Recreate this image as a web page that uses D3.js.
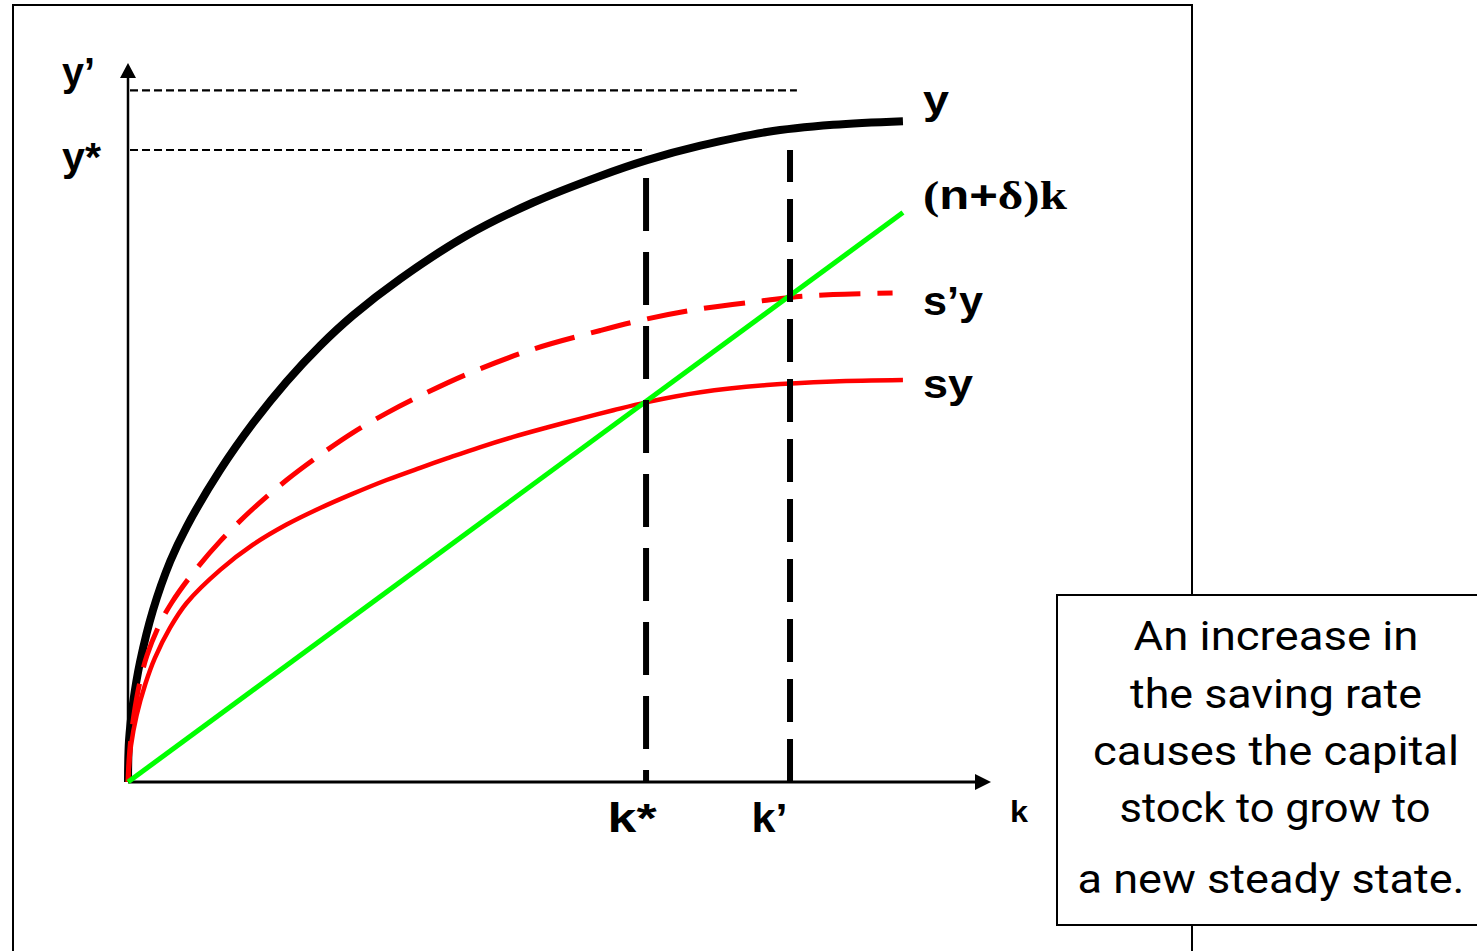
<!DOCTYPE html>
<html><head><meta charset="utf-8">
<script src="https://cdn.jsdelivr.net/npm/d3@7"></script>
<style>html,body{margin:0;padding:0;background:#fff;overflow:hidden}svg{display:block}</style>
</head><body>
<script>
// ---------- data ----------
const yK  = [0, 0.012, 0.06, 0.14, 0.29, 0.49, 0.68, 1.07, 1.45, 1.84, 2.23, 2.61, 3.16, 3.93, 4.70, 5.48, 6.02, 6.64, 7.41, 8.18, 8.99];
const yV  = [0, 0.58, 1.11, 1.67, 2.39, 3.07, 3.55, 4.34, 4.99, 5.57, 6.07, 6.49, 7.00, 7.60, 8.06, 8.43, 8.65, 8.85, 9.04, 9.14, 9.19];
const syK = [0, 0.035, 0.10, 0.20, 0.31, 0.49, 0.68, 1.07, 1.45, 1.84, 2.23, 2.61, 3.00, 3.39, 3.70, 4.08, 4.47, 4.86, 5.24, 5.63, 6.01, 6.64, 7.41, 8.18, 8.99];
const syV = [0, 0.51, 0.93, 1.36, 1.72, 2.15, 2.49, 2.95, 3.30, 3.58, 3.81, 4.01, 4.20, 4.37, 4.50, 4.655, 4.80, 4.93, 5.05, 5.17, 5.28, 5.42, 5.52, 5.57, 5.59];
const s2K = [0, 0.012, 0.035, 0.08, 0.14, 0.22, 0.37, 0.51, 0.75, 1.07, 1.45, 1.84, 2.23, 2.61, 3.00, 3.39, 3.93, 4.70, 5.48, 6.02, 6.64, 7.41, 7.68, 8.18, 8.87];
const s2V = [0, 0.31, 0.62, 1.02, 1.40, 1.76, 2.20, 2.50, 2.90, 3.35, 3.80, 4.20, 4.55, 4.86, 5.13, 5.37, 5.67, 6.02, 6.28, 6.44, 6.58, 6.70, 6.74, 6.78, 6.80];
const depK = [0, 8.99];
const depV = [0, 7.92];

const kStar = 6.01, kPrime = 7.68;
const kStarTop = 8.40, kPrimeTop = 8.79;
const yStar = 8.79, yPrime = 9.62;
const yStarEnd = 6.01, yPrimeEnd = 7.76;

const xTickValues = [kStar, kPrime];
const xTickLabels = ["k*", "k’"];
const yTickValues = [yPrime, yStar];
const yTickLabels = ["y’", "y*"];
const axisLabelX = "k";
const curveLabels = ["y", "(n+δ)k", "s’y", "sy"];
const noteLines = ["An increase in", "the saving rate", "causes the capital", "stock to grow to", "a new steady state."];

// ---------- drawing ----------
const W = 1477, H = 951;
const svg = d3.select("body").append("svg").attr("width", W).attr("height", H);
const x = d3.scaleLinear().domain([0, 10]).range([128, 990]);
const y = d3.scaleLinear().domain([0, 10]).range([782, 63]);
const bold = "'Liberation Sans', Arial, sans-serif";
const serif = "'Liberation Serif', 'Times New Roman', serif";

// outer frame
svg.append("rect").attr("x", 13).attr("y", 5).attr("width", 1179).attr("height", 1000)
  .attr("fill", "none").attr("stroke", "#000").attr("stroke-width", 2);

// axes
const xAxis = svg.append("g").attr("transform", `translate(0,${y(0)})`)
  .call(d3.axisBottom(x).tickValues(xTickValues).tickFormat((d, i) => xTickLabels[i]).tickSize(0).tickSizeOuter(0));
xAxis.select(".domain").attr("stroke-width", 3).attr("d", `M${x(0)},0H${x(10) - 8}`);
const xLabelW = [49, 36];
xAxis.selectAll(".tick text").attr("text-anchor", "start").attr("x", -39).attr("y", 50).attr("dy", 0)
  .attr("font-family", bold).attr("font-weight", "bold").attr("font-size", 40).attr("fill", "#000")
  .attr("textLength", (d, i) => xLabelW[i]).attr("lengthAdjust", "spacingAndGlyphs");

const yAxis = svg.append("g").attr("transform", `translate(${x(0)},0)`)
  .call(d3.axisLeft(y).tickValues(yTickValues).tickFormat((d, i) => yTickLabels[i]).tickSize(0).tickSizeOuter(0));
yAxis.select(".domain").attr("stroke-width", 2.5).attr("d", `M0,${y(0)}V${y(10) + 10}`);
const yLabelDy = [-5, 21], yLabelW = [33, 39];
yAxis.selectAll(".tick text").attr("text-anchor", "start").attr("x", -66).attr("dy", 0)
  .attr("y", (d, i) => yLabelDy[i])
  .attr("font-family", bold).attr("font-weight", "bold").attr("font-size", 40).attr("fill", "#000")
  .attr("textLength", (d, i) => yLabelW[i]).attr("lengthAdjust", "spacingAndGlyphs");
svg.selectAll(".domain").attr("stroke", "#000");

// arrowheads
svg.append("path").attr("d", `M${x(0)},${y(10)}L${x(0) - 8},${y(10) + 15}L${x(0) + 8},${y(10) + 15}Z`).attr("fill", "#000");
svg.append("path").attr("d", `M${x(10) + 1},${y(0)}L${x(10) - 15},${y(0) - 8}L${x(10) - 15},${y(0) + 8}Z`).attr("fill", "#000");
svg.append("text").attr("x", x(10) + 20).attr("y", y(0) + 40).text(axisLabelX)
  .attr("font-family", bold).attr("font-weight", "bold").attr("font-size", 30)
  .attr("textLength", 18).attr("lengthAdjust", "spacingAndGlyphs");

// horizontal guides
svg.append("line").attr("x1", x(0) + 2).attr("x2", x(yPrimeEnd)).attr("y1", y(yPrime)).attr("y2", y(yPrime))
  .attr("stroke", "#000").attr("stroke-width", 2.2).attr("stroke-dasharray", "8,4");
svg.append("line").attr("x1", x(0) + 2).attr("x2", x(yStarEnd)).attr("y1", y(yStar)).attr("y2", y(yStar))
  .attr("stroke", "#000").attr("stroke-width", 2.2).attr("stroke-dasharray", "8,4");

// curves
const line = d3.line().x(d => x(d[0])).y(d => y(d[1])).curve(d3.curveCatmullRom.alpha(0.5));
const zip = (a, b) => a.map((v, i) => [v, b[i]]);
svg.append("path").attr("d", line(zip(yK, yV))).attr("fill", "none").attr("stroke", "#000").attr("stroke-width", 8);
svg.append("path").attr("d", line(zip(s2K, s2V))).attr("fill", "none").attr("stroke", "#ff0000").attr("stroke-width", 5).attr("stroke-dasharray", "41,17");
svg.append("path").attr("d", line(zip(syK, syV))).attr("fill", "none").attr("stroke", "#ff0000").attr("stroke-width", 4.5);
svg.append("path").attr("d", d3.line().x(d => x(d[0])).y(d => y(d[1]))(zip(depK, depV))).attr("fill", "none").attr("stroke", "#00ff00").attr("stroke-width", 5);

// vertical guides
svg.append("line").attr("x1", x(kStar)).attr("x2", x(kStar)).attr("y1", y(kStarTop)).attr("y2", y(0))
  .attr("stroke", "#000").attr("stroke-width", 6).attr("stroke-dasharray", "53,21");
svg.append("line").attr("x1", x(kPrime)).attr("x2", x(kPrime)).attr("y1", y(0)).attr("y2", y(kPrimeTop))
  .attr("stroke", "#000").attr("stroke-width", 6).attr("stroke-dasharray", "43,17");

// curve labels
const ends = [yV[yV.length - 1], depV[1], s2V[s2V.length - 1], syV[syV.length - 1]];
const labDy = [-7, -4, 22, 18], labW = [26, 144, 60, 50];
const labs = svg.selectAll("text.clab").data(curveLabels).enter().append("text").attr("class", "clab")
  .attr("x", x(8.99) + 20).attr("y", (d, i) => y(ends[i]) + labDy[i])
  .attr("font-family", bold).attr("font-weight", "bold").attr("font-size", 40)
  .attr("textLength", (d, i) => labW[i]).attr("lengthAdjust", "spacingAndGlyphs");
labs.each(function (d) {
  const t = d3.select(this);
  if (d.startsWith("(")) {
    t.append("tspan").attr("font-family", serif).text("(");
    t.append("tspan").text("n+");
    t.append("tspan").attr("font-family", serif).text("δ)k");
  } else t.text(d);
});

// note box
svg.append("rect").attr("x", 1057).attr("y", 595).attr("width", 500).attr("height", 330)
  .attr("fill", "#fff").attr("stroke", "#000").attr("stroke-width", 2);
const noteY = [650, 708, 765, 822, 893], noteW = [285, 292, 366, 311, 387], noteX = [1276, 1276, 1276, 1275, 1271];
svg.selectAll("text.note").data(noteLines).enter().append("text").attr("class", "note")
  .attr("x", (d, i) => noteX[i]).attr("y", (d, i) => noteY[i]).attr("text-anchor", "middle")
  .attr("font-family", "Roboto, 'Noto Sans', sans-serif").attr("font-size", 41)
  .attr("textLength", (d, i) => noteW[i]).attr("lengthAdjust", "spacingAndGlyphs")
  .text(d => d);
</script>
</body></html>
